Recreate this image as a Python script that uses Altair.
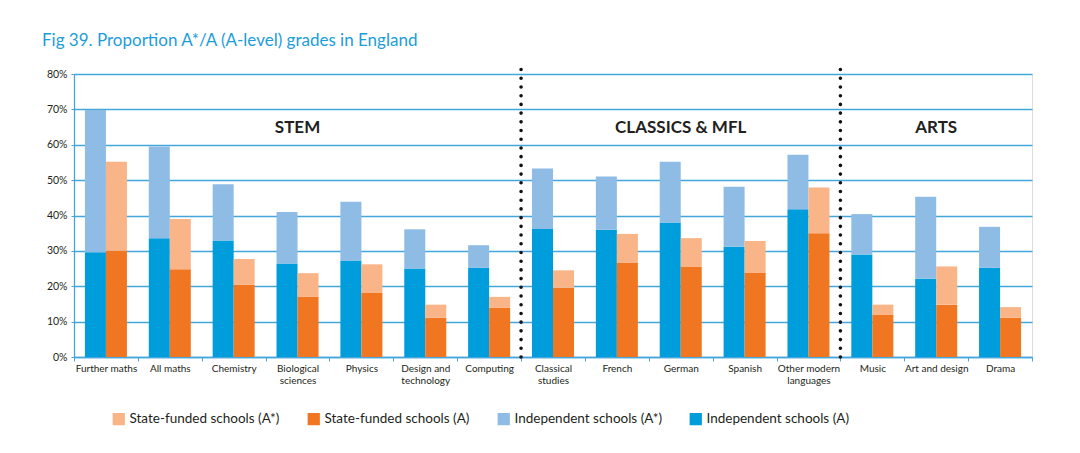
import altair as alt
import pandas as pd

# ---- data (percent) ----
subjects = ["Further maths", "All maths", "Chemistry", "Biological|sciences", "Physics",
            "Design and|technology", "Computing", "Classical|studies", "French", "German",
            "Spanish", "Other modern|languages", "Music", "Art and design", "Drama"]
indep_a = [29.6, 33.6, 32.9, 26.4, 27.3, 25.0, 25.2, 36.2, 36.0, 38.0, 31.2, 41.8, 29.0, 22.1, 25.2]
indep_astar = [40.2, 25.9, 15.9, 14.6, 16.6, 11.1, 6.4, 17.1, 15.0, 17.2, 16.9, 15.4, 11.4, 23.2, 11.6]
state_a = [30.1, 24.8, 20.4, 17.0, 18.1, 11.1, 13.9, 19.6, 26.7, 25.6, 23.9, 35.0, 12.0, 14.8, 11.1]
state_astar = [25.1, 14.2, 7.3, 6.7, 8.1, 3.7, 3.1, 4.9, 8.1, 8.0, 8.9, 12.9, 2.8, 10.8, 3.0]

series_names = ["State-funded schools (A*)", "State-funded schools (A)",
                "Independent schools (A*)", "Independent schools (A)"]
series_colors = ["#f9b487", "#f07621", "#8fbce4", "#009ddc"]

# section separators (placed after these subjects) and section labels (centred on a subject)
divider_after = ["Computing", "Other modern|languages"]
divider_top = 81.7
section_labels = ["STEM", "CLASSICS & MFL", "ARTS"]
section_label_at = ["Biological|sciences", "German", "Art and design"]
section_label_y = 64.8
y_ticks = [0, 10, 20, 30, 40, 50, 60, 70, 80]

title_text = "Fig 39. Proportion A*/A (A-level) grades in England"

# ---- build table ----
rows = []
for i, s in enumerate(subjects):
    rows.append(dict(subject=s, school="Independent", grade=0, value=indep_a[i], series=series_names[3]))
    rows.append(dict(subject=s, school="Independent", grade=1, value=indep_astar[i], series=series_names[2]))
    rows.append(dict(subject=s, school="State", grade=0, value=state_a[i], series=series_names[1]))
    rows.append(dict(subject=s, school="State", grade=1, value=state_astar[i], series=series_names[0]))
df = pd.DataFrame(rows)

FONT = "Lato"
BLUE = "#45a6dc"

xscale = alt.Scale(domain=subjects, paddingInner=0, paddingOuter=0)
yscale = alt.Scale(domain=[0, 80], nice=False)

xaxis = alt.Axis(tickBand="extent", labelAngle=0, labelExpr="split(datum.label, '|')",
                 labelFontSize=10, labelColor="#231f20", labelPadding=2,
                 labelLineHeight=12.5, tickSize=4, tickColor=BLUE, domainColor=BLUE,
                 domainWidth=1.3, labelFont=FONT, grid=False, labelLimit=200,
                 labelOverlap=False, orient="bottom")
yaxis = alt.Axis(values=y_ticks, labelExpr="datum.value + '%'", labelOverlap=False,
                 labelFontSize=10.5, labelColor="#231f20", labelFont=FONT,
                 grid=True, gridColor=BLUE, gridWidth=1.3, tickSize=3, tickColor=BLUE,
                 domainColor=BLUE, domainWidth=1.3, labelPadding=4, orient="left")

bars = alt.Chart(df).mark_bar().encode(
    x=alt.X("subject:N", scale=xscale, sort=subjects, title=None, axis=xaxis),
    xOffset=alt.XOffset("school:N", sort=["Independent", "State"],
                        scale=alt.Scale(paddingInner=0, paddingOuter=0.52)),
    y=alt.Y("value:Q", stack="zero", scale=yscale, title=None, axis=yaxis),
    order=alt.Order("grade:Q", sort="ascending"),
    color=alt.Color("series:N", scale=alt.Scale(domain=series_names, range=series_colors),
                    title=None,
                    legend=alt.Legend(orient="none", legendX=38, legendY=338, direction="horizontal",
                                      columns=4, symbolType="square", symbolSize=150,
                                      symbolStrokeWidth=0, labelFontSize=13.5, labelFont=FONT,
                                      labelColor="#231f20", columnPadding=27, labelOffset=4,
                                      labelLimit=300, padding=0)),
)

div_df = pd.DataFrame({"subject": divider_after, "y0": [0] * len(divider_after),
                       "y1": [divider_top] * len(divider_after)})
dividers = alt.Chart(div_df).mark_rule(color="#111111", strokeWidth=3.6, strokeCap="round",
                                       strokeDash=[0.01, 8.7]).encode(
    x=alt.X("subject:N", sort=subjects, bandPosition=1, title=None, axis=xaxis),
    y=alt.Y("y0:Q", scale=yscale, title=None, axis=yaxis),
    y2="y1:Q",
)

lab_df = pd.DataFrame({"subject": section_label_at, "label": section_labels,
                       "y": [section_label_y] * len(section_labels)})
labels = alt.Chart(lab_df).mark_text(fontSize=17, fontWeight="bold", font=FONT, color="#231f20",
                                     baseline="middle", align="center").encode(
    x=alt.X("subject:N", sort=subjects, bandPosition=0.5, title=None, axis=xaxis),
    y=alt.Y("y:Q", scale=yscale, title=None, axis=yaxis),
    text="label:N",
)

chart = alt.layer(bars, dividers, labels).properties(
    width=958, height=283,
    autosize=alt.AutoSizeParams(type="none"),
    padding={"left": 66, "top": 66, "right": 40, "bottom": 88},
    title=alt.TitleParams(title_text, anchor="start", frame="group", dx=-32, offset=16,
                          fontSize=17, font=FONT, fontWeight="normal", color="#1b9dd9"),
).configure_view(stroke=None).configure(font=FONT)

chart.save("out.html", embed_options={"renderer": "svg", "actions": False})
